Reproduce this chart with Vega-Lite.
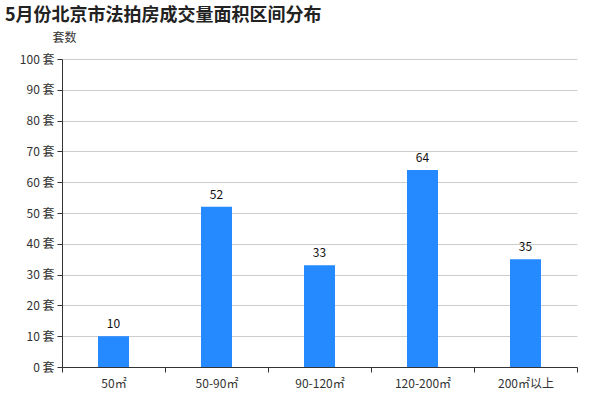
{
  "$schema": "https://vega.github.io/schema/vega-lite/v6.json",
  "autosize": {"type": "none"},
  "padding": {"left": 62, "top": 59, "right": 23, "bottom": 33},
  "width": 515,
  "height": 308,
  "background": "white",
  "title": {
    "text": "5月份北京市法拍房成交量面积区间分布",
    "anchor": "start",
    "frame": "group",
    "font": "Noto Sans CJK SC",
    "fontSize": 18,
    "fontWeight": "bold",
    "color": "#222",
    "dx": -57,
    "offset": 6
  },
  "config": {
    "view": {"stroke": null},
    "font": "Noto Sans CJK SC"
  },
  "data": {
    "values": [
      {"range": "50㎡", "count": 10},
      {"range": "50-90㎡", "count": 52},
      {"range": "90-120㎡", "count": 33},
      {"range": "120-200㎡", "count": 64},
      {"range": "200㎡以上", "count": 35}
    ]
  },
  "encoding": {
    "x": {
      "field": "range",
      "type": "nominal",
      "sort": null,
      "scale": {"paddingInner": 0, "paddingOuter": 0},
      "axis": {
        "title": null,
        "labelAngle": 0,
        "labelFontSize": 12,
        "labelColor": "#333",
        "labelPadding": 6,
        "domainColor": "#333",
        "tickColor": "#333",
        "tickSize": 5,
        "tickBand": "extent",
        "grid": false
      }
    },
    "y": {
      "field": "count",
      "type": "quantitative",
      "scale": {"domain": [0, 100]},
      "axis": {
        "title": "套数",
        "titleAngle": 0,
        "titleAlign": "center",
        "titleBaseline": "middle",
        "titleX": 2,
        "titleY": -22,
        "titleFontSize": 12,
        "titleFontWeight": "normal",
        "titleColor": "#333",
        "values": [0, 10, 20, 30, 40, 50, 60, 70, 80, 90, 100],
        "labelExpr": "datum.value + ' 套'",
        "labelFontSize": 12,
        "labelColor": "#333",
        "labelPadding": 3,
        "domainColor": "#333",
        "tickColor": "#333",
        "tickSize": 5,
        "gridColor": "#ccc"
      }
    }
  },
  "layer": [
    {"mark": {"type": "bar", "width": 31, "color": "#2589ff"}},
    {
      "mark": {"type": "text", "baseline": "bottom", "dy": -5, "fontSize": 12, "color": "#111"},
      "encoding": {"text": {"field": "count", "type": "quantitative"}}
    }
  ]
}
